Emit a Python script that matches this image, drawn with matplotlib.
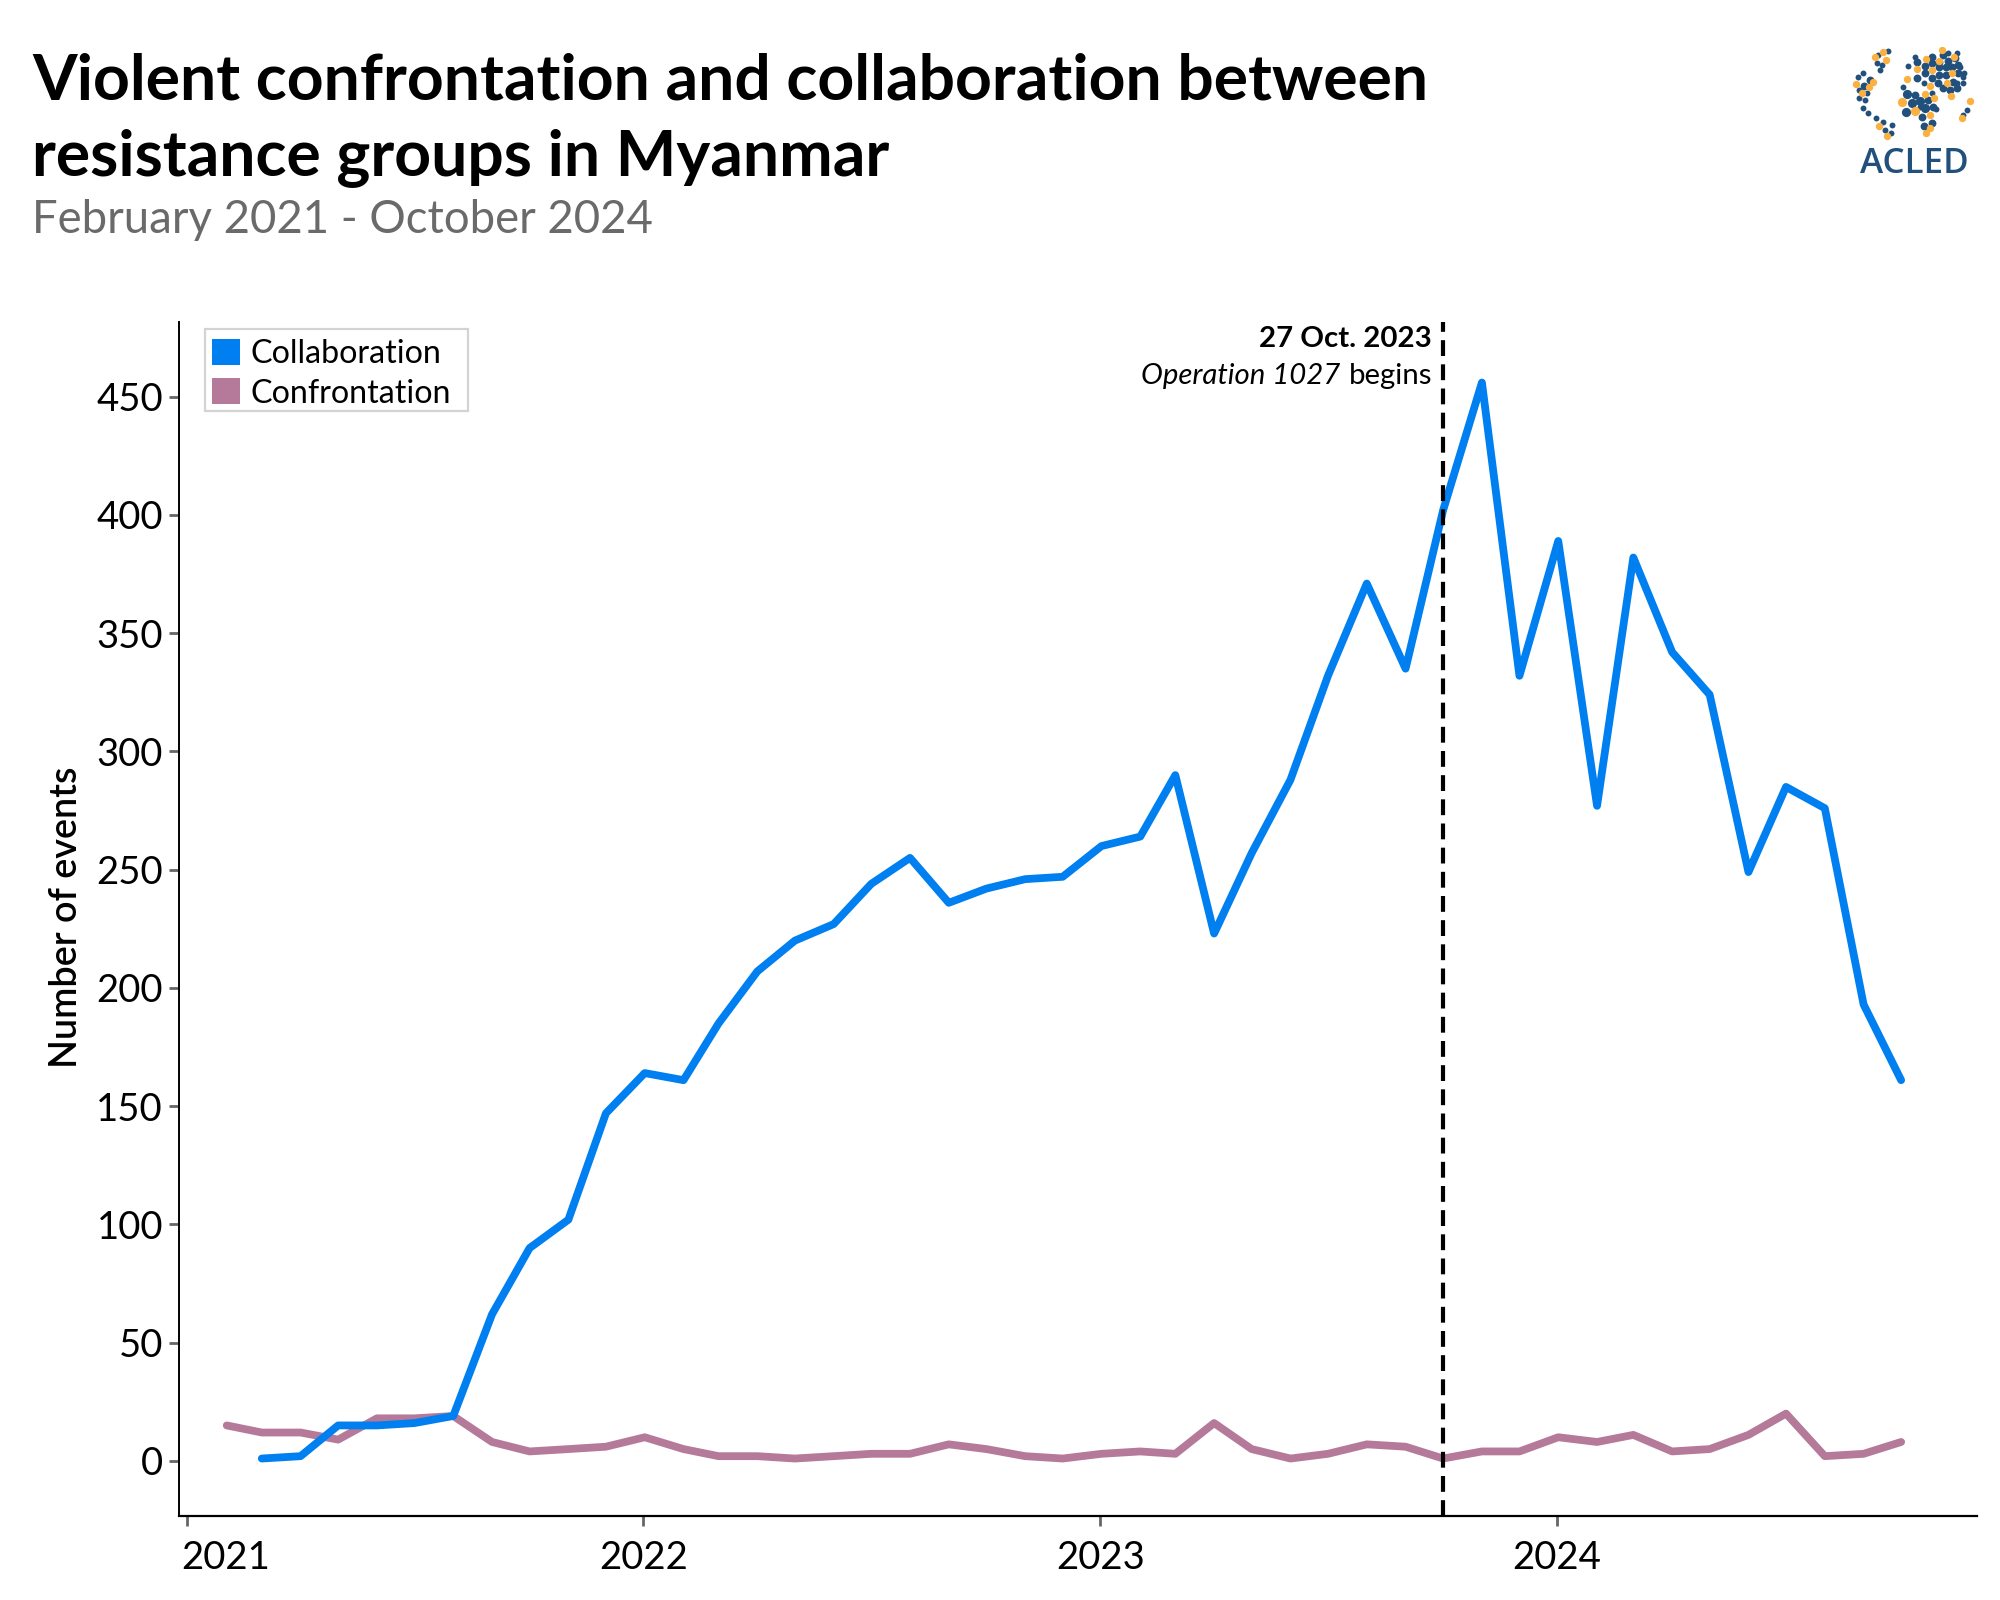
"""Violent confrontation and collaboration between resistance groups in Myanmar."""

import matplotlib

matplotlib.use("Agg")

import matplotlib.dates as mdates
import matplotlib.pyplot as plt
import numpy as np
import pandas as pd
from matplotlib.patches import Patch, Rectangle
from matplotlib.transforms import ScaledTranslation

plt.rcParams["font.family"] = ["Lato", "DejaVu Sans"]

W, H = 2000, 1600
BLUE = "#007ff0"
MAUVE = "#b57a9a"
LOGO_DARK = "#22507c"
LOGO_ORANGE = "#fbb040"

collab_dates = pd.date_range("2021-03-01", "2024-10-01", freq="MS") + pd.Timedelta(days=1)
collaboration = [
    1, 2, 15, 15, 16, 19, 62, 90, 102, 147,
    164, 161, 185, 207, 220, 227, 244, 255, 236, 242, 246, 247,
    260, 264, 290, 223, 257, 288, 332, 371, 335, 402, 456, 332,
    389, 277, 382, 342, 324, 249, 285, 276, 193, 161,
]
confront_dates = pd.date_range("2021-02-01", "2024-10-01", freq="MS") + pd.Timedelta(days=1)
confrontation = [
    15, 12, 12, 9, 18, 18, 19, 8, 4, 5, 6,
    10, 5, 2, 2, 1, 2, 3, 3, 7, 5, 2, 1,
    3, 4, 3, 16, 5, 1, 3, 7, 6, 1, 4, 4,
    10, 8, 11, 4, 5, 11, 20, 2, 3, 8,
]
y_ticks = [0, 50, 100, 150, 200, 250, 300, 350, 400, 450]
year_ticks = ["2021", "2022", "2023", "2024"]
event_date = "2023-10-02"

# logo dots, in pixels of a 600x480 box around the logo
logo_small = [
    (235, 75), (265, 62), (232, 100), (245, 105), (240, 120), (190, 128), (175, 140),
    (178, 180), (200, 190), (195, 210), (178, 205), (190, 235), (205, 250), (228, 265),
    (250, 275), (275, 285), (255, 300), (272, 310), (345, 80), (325, 108), (490, 160),
    (480, 110), (492, 128), (470, 70), (445, 68), (490, 140), (470, 160), (310, 172),
    (372, 160), (395, 188), (360, 232), (408, 238), (500, 240), (490, 255),
]
logo_dark = [
    (192, 168), (210, 150), (350, 95), (375, 108), (397, 80), (397, 100), (418, 112),
    (437, 112), (455, 112), (475, 105), (375, 130), (418, 135), (437, 135), (475, 128),
    (350, 145), (395, 145), (415, 158), (458, 155), (428, 175), (450, 180), (470, 175),
    (430, 75), (465, 85), (445, 92), (418, 95), (345, 195), (385, 210), (400, 232),
    (397, 278), (372, 288), (365, 262),
]
logo_dark_big = [(320, 193), (335, 220), (360, 212), (318, 245), (375, 235)]
logo_orange = [
    (250, 65), (258, 90), (225, 80), (220, 157), (208, 170), (185, 188), (168, 163),
    (237, 287), (262, 317), (403, 203), (375, 193), (390, 293), (378, 88), (416, 92),
    (351, 117), (396, 121), (322, 147), (456, 130), (390, 168), (441, 160), (427, 60),
    (463, 80), (452, 197), (487, 265), (510, 212), (378, 308), (390, 256),
]
logo_orange_big = [(306, 215), (346, 242)]


def fx(px):
    return px / W


def fy(py):
    return 1 - py / H


def draw_logo(fig):
    """Small stand-in for the ACLED logo: dots plus the name."""
    ax = fig.add_axes([fx(1800), fy(190), 200 / W, 160 / H])
    ax.set_xlim(0, 600)
    ax.set_ylim(480, 0)
    ax.axis("off")
    for dots, colour, size in [
        (logo_small, LOGO_DARK, 4.5),
        (logo_dark, LOGO_DARK, 8),
        (logo_dark_big, LOGO_DARK, 11),
        (logo_orange, LOGO_ORANGE, 7),
        (logo_orange_big, LOGO_ORANGE, 11),
    ]:
        xy = np.array(dots)
        ax.scatter(xy[:, 0], xy[:, 1], s=size, color=colour, linewidths=0)
    fig.text(fx(1914), fy(173), "ACLED", color=LOGO_DARK, fontsize=12.6, ha="center",
             va="baseline", family="Open Sans", fontweight="semibold")


def main():
    fig = plt.figure(figsize=(10, 8), dpi=200)

    fig.text(fx(32), fy(100), "Violent confrontation and collaboration between",
             fontsize=23.15, fontweight="bold", va="baseline", color="black")
    fig.text(fx(32), fy(175), "resistance groups in Myanmar",
             fontsize=23.15, fontweight="bold", va="baseline", color="black")
    fig.text(fx(32), fy(233), "February 2021 - October 2024",
             fontsize=16.4, va="baseline", color="#6a6a6a")

    ax = fig.add_axes([fx(178.5), fy(1516), (1977 - 178.5) / W, (1516 - 322) / H])

    ax.plot(confront_dates, confrontation, color=MAUVE, lw=2.8,
            solid_capstyle="round", solid_joinstyle="round")
    ax.plot(collab_dates, collaboration, color=BLUE, lw=2.8,
            solid_capstyle="round", solid_joinstyle="round")

    event_x = mdates.date2num(pd.Timestamp(event_date))
    ax.axvline(event_x, color="black", lw=1.5, dashes=(3.8, 2.0), zorder=3)

    x0 = mdates.date2num(pd.Timestamp("2021-01-01"))
    x1 = mdates.date2num(pd.Timestamp("2024-01-01"))
    per_px = (x1 - x0) / (1557 - 186.7)
    ax.set_xlim(x0 - (186.7 - 178.5) * per_px, x0 + (1977 - 186.7) * per_px)
    ax.set_ylim(-23.3, 481.6)

    ax.set_yticks(y_ticks)
    ax.set_xticks([mdates.date2num(pd.Timestamp(f"{y}-01-01")) for y in year_ticks])
    ax.set_xticklabels(year_ticks)
    ax.tick_params(axis="both", length=3.6, width=1.0, color="#666666",
                   labelsize=13.8, labelcolor="black")
    ax.tick_params(axis="x", pad=5.1)
    ax.tick_params(axis="y", pad=2.0)

    # first year label sits right of its tick, as in the source chart
    first = ax.get_xticklabels()[0]
    first.set_ha("left")
    first.set_transform(first.get_transform()
                        + ScaledTranslation(-5 / 200, 0, fig.dpi_scale_trans))

    ax.spines["top"].set_visible(False)
    ax.spines["right"].set_visible(False)
    ax.spines["left"].set_linewidth(0.7)
    ax.spines["bottom"].set_linewidth(0.8)

    ax.set_ylabel("Number of events", fontsize=13.6, fontweight="semibold")
    ax.yaxis.set_label_coords((84 - 178.5) / 1798.5, 0.5017)

    # legend frame is a separate box so its padding can follow the original
    frame = Rectangle((fx(204.5), fy(411)), 263 / W, 82.5 / H, transform=fig.transFigure,
                      facecolor="white", edgecolor="#d3d3d3", lw=0.8, zorder=4)
    ax.add_patch(frame)
    frame.set_clip_on(False)
    handles = [Patch(facecolor=BLUE, label="Collaboration"),
               Patch(facecolor=MAUVE, label="Confrontation")]
    legend = ax.legend(handles=handles, loc="upper left",
                       bbox_to_anchor=((212 - 178.5) / 1798.5, (1516 - 338.5) / 1194),
                       borderaxespad=0, borderpad=0, fontsize=11.6, frameon=False,
                       handlelength=0.87, handleheight=0.87, handletextpad=0.32,
                       labelspacing=0.3)
    legend.set_zorder(5)

    # annotation left of the dashed line
    ann_x = event_x - 11 * per_px
    ax.text(ann_x, 474.5, "27 Oct. 2023", ha="right", va="center", fontsize=10.6,
            fontweight="bold", color="black")
    begins = ax.text(ann_x, 458.7, "begins", ha="right", va="center", fontsize=10.6,
                     color="black")
    ax.annotate("Operation 1027", xy=(0, 0), xycoords=begins, xytext=(-3, 0),
                textcoords="offset points", ha="right", va="bottom", fontsize=10.6,
                fontstyle="italic", color="black")

    draw_logo(fig)

    fig.savefig("out.png", dpi=200, facecolor="white")


if __name__ == "__main__":
    main()
